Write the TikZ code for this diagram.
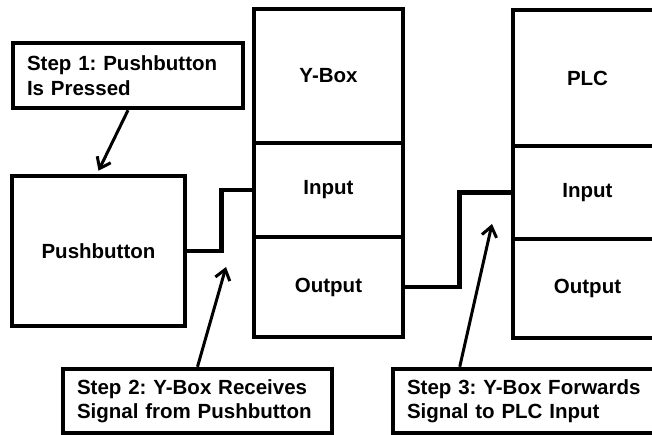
\documentclass[tikz,border=0pt]{standalone}
\usepackage{fontspec}
\setmainfont{Liberation Sans}
\usetikzlibrary{arrows.meta,calc}
\frenchspacing
\begin{document}
\begin{tikzpicture}[x=1pt,y=-1pt,
  box/.style={draw,line width=4.5pt,rectangle,inner sep=0pt,
    font=\bfseries\fontsize{20.5}{24.5}\selectfont},
  stepbox/.style={box,align=left,inner xsep=14pt,text width=#1},
  wire/.style={line width=4.5pt},
  callout/.style={line width=3pt,-{Straight Barb[length=10pt,width=15pt,line width=3pt]}}]
\useasboundingbox (0,0) rectangle (652,435);
\clip (0,0) rectangle (652,435);
% Step 1
\node[stepbox=202pt,minimum height=65pt] (step1) at (128,75.5) {Step 1: Pushbutton\\Is Pressed};
% Pushbutton
\node[box,minimum width=173pt,minimum height=150pt] (push) at (98.5,251) {Pushbutton};
% Y-Box
\node[box,minimum width=149pt,minimum height=134pt] (ybox) at (328.5,76) {Y-Box};
\node[box,minimum width=149pt,minimum height=94pt] (yin) at (328.5,190) {Input};
\node[box,minimum width=149pt,minimum height=100pt] (yout) at (328.5,287) {Output};
% PLC
\node[box,minimum width=149pt,minimum height=136pt] (plc) at (587.5,78) {PLC};
\node[box,minimum width=149pt,minimum height=93pt] (pin) at (587.5,192.5) {Input};
\node[box,minimum width=149pt,minimum height=99pt] (pout) at (587.5,288.5) {Output};
% Step boxes
\node[stepbox=241pt,minimum height=64pt] (step2) at (197.5,401) {Step 2: Y-Box Receives\\Signal from Pushbutton};
\node[stepbox=241pt,minimum height=64pt] (step3) at (527.5,401) {Step 3: Y-Box Forwards\\Signal to PLC Input};
% wires
\draw[wire] (push.east) -- ++(34,0) |- (yin.west);
\draw[wire] (yout.east) -- ++(54,0) |- (pin.west);
% callouts
\coordinate (tip2) at (226,267);
\coordinate (tail3) at ($(step3.north west)+(69,0)$);
\coordinate (tip3) at (492,224);
\draw[callout] (step1.south) -- ([yshift=3pt]push.north);
\draw[callout] (step2.north) -- (tip2);
\draw[callout] (tail3) -- (tip3);
\end{tikzpicture}
\end{document}
